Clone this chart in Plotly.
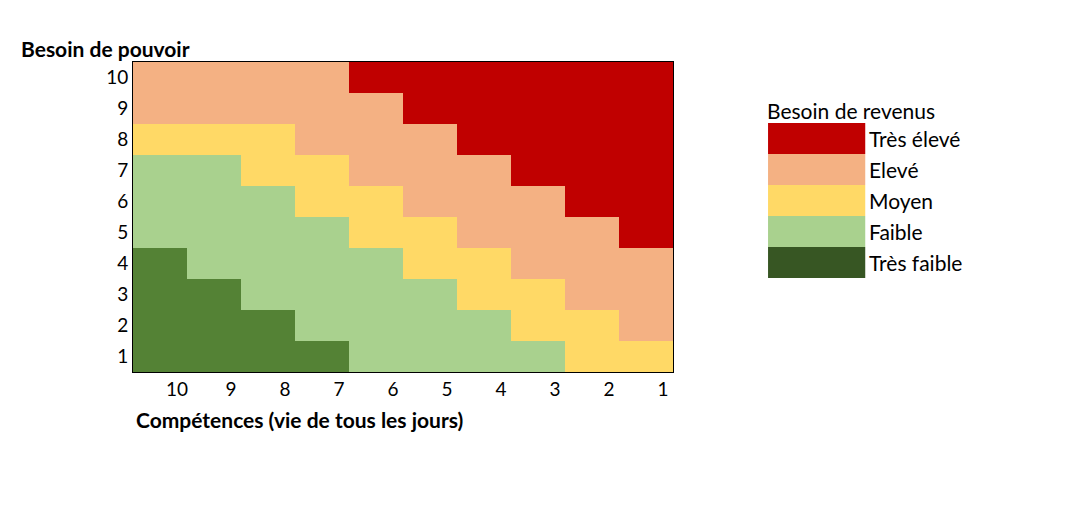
import plotly.graph_objects as go

# Competence levels (x, shown from 10 down to 1) and power-need levels (y)
competences = ["10", "9", "8", "7", "6", "5", "4", "3", "2", "1"]
pouvoir = ["1", "2", "3", "4", "5", "6", "7", "8", "9", "10"]

# Income-need class per cell: 0=Très faible ... 4=Très élevé
# one list per power-need row, columns follow `competences`
row_1 = [0, 0, 0, 0, 1, 1, 1, 1, 2, 2]
row_2 = [0, 0, 0, 1, 1, 1, 1, 2, 2, 3]
row_3 = [0, 0, 1, 1, 1, 1, 2, 2, 3, 3]
row_4 = [0, 1, 1, 1, 1, 2, 2, 3, 3, 3]
row_5 = [1, 1, 1, 1, 2, 2, 3, 3, 3, 4]
row_6 = [1, 1, 1, 2, 2, 3, 3, 3, 4, 4]
row_7 = [1, 1, 2, 2, 3, 3, 3, 4, 4, 4]
row_8 = [2, 2, 2, 3, 3, 3, 4, 4, 4, 4]
row_9 = [3, 3, 3, 3, 3, 4, 4, 4, 4, 4]
row_10 = [3, 3, 3, 3, 4, 4, 4, 4, 4, 4]

classes = ["Très faible", "Faible", "Moyen", "Elevé", "Très élevé"]
cell_colors = ["#548235", "#A9D18E", "#FFD966", "#F4B183", "#C00000"]
legend_colors = ["#375623", "#A9D18E", "#FFD966", "#F4B183", "#C00000"]

z = [row_1, row_2, row_3, row_4, row_5, row_6, row_7, row_8, row_9, row_10]

# stepwise colorscale: one flat band per class
n = len(cell_colors)
colorscale = []
for i, c in enumerate(cell_colors):
    colorscale.append([i / n, c])
    colorscale.append([(i + 1) / n, c])

FONT = "Lato, 'Open Sans', sans-serif"
TITLE_SIZE = 21
LABEL_SIZE = 21
TICK_SIZE = 19

fig = go.Figure(
    go.Heatmap(
        x=competences,
        y=pouvoir,
        z=z,
        zmin=-0.5,
        zmax=n - 0.5,
        colorscale=colorscale,
        showscale=False,
        xgap=0,
        ygap=0,
        hovertemplate="Compétences %{x}<br>Pouvoir %{y}<extra></extra>",
    )
)

fig.update_xaxes(
    type="category",
    showline=True, linecolor="black", linewidth=1, mirror=True,
    showgrid=False, zeroline=False, ticks="",
    ticklabelshift=17,
    tickfont=dict(family=FONT, size=TICK_SIZE, color="black"),
)
fig.update_yaxes(
    type="category",
    showline=True, linecolor="black", linewidth=1, mirror=True,
    showgrid=False, zeroline=False, ticks="",
    tickfont=dict(family=FONT, size=TICK_SIZE, color="black"),
)

annotations = [
    dict(text="<b>Besoin de pouvoir</b>", xref="paper", yref="paper",
         x=-0.205, y=1.0, xanchor="left", yanchor="bottom", xshift=-3, yshift=-1,
         showarrow=False, font=dict(family=FONT, size=TITLE_SIZE, color="black")),
    dict(text="<b>Compétences (vie de tous les jours)</b>", xref="paper", yref="paper",
         x=0.0, y=0.0, xanchor="left", yanchor="top", xshift=1, yshift=-33,
         showarrow=False, font=dict(family=FONT, size=TITLE_SIZE, color="black")),
    dict(text="Besoin de revenus", xref="paper", yref="paper",
         x=1.17, y=0.843, xanchor="left", yanchor="middle",
         showarrow=False, font=dict(family=FONT, size=LABEL_SIZE, color="black")),
]

# legend: colour swatches with labels, highest class on top
shapes = []
sw_top = 0.803
sw_h = 0.1
for k, idx in enumerate(reversed(range(n))):
    y1 = sw_top - k * sw_h
    y0 = y1 - sw_h
    shapes.append(dict(type="rect", xref="paper", yref="paper",
                       x0=1.176, x1=1.356, y0=y0, y1=y1,
                       fillcolor=legend_colors[idx], line=dict(width=0)))
    annotations.append(dict(text=classes[idx], xref="paper", yref="paper",
                            x=1.36, y=(y0 + y1) / 2, xanchor="left", yanchor="middle",
                            showarrow=False,
                            font=dict(family=FONT, size=LABEL_SIZE, color="black")))

fig.update_layout(
    width=1069, height=517,
    margin=dict(l=133, r=396, t=62, b=145, autoexpand=False),
    paper_bgcolor="white", plot_bgcolor="white",
    annotations=annotations, shapes=shapes,
    showlegend=False,
)

fig.write_html("out.html")
